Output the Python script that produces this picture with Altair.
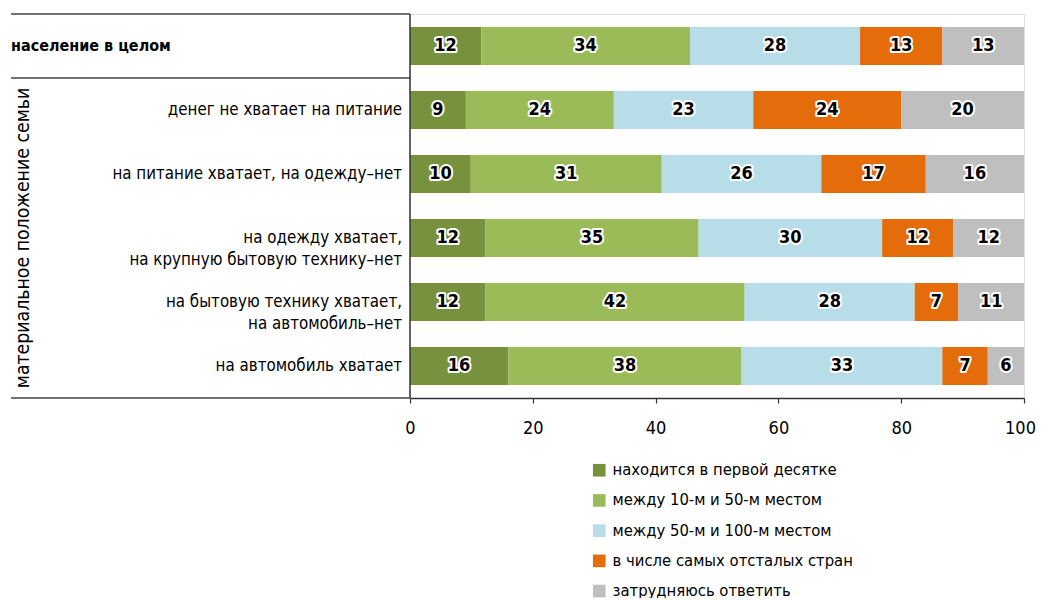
import altair as alt
import pandas as pd

rows = [
    "население в целом",
    "денег не хватает на питание",
    "на питание хватает, на одежду–нет",
    "на одежду хватает,\nна крупную бытовую технику–нет",
    "на бытовую технику хватает,\nна автомобиль–нет",
    "на автомобиль хватает",
]
series = [
    "находится в первой десятке",
    "между 10-м и 50-м местом",
    "между 50-м и 100-м местом",
    "в числе самых отсталых стран",
    "затрудняюсь ответить",
]
colors = ["#77923C", "#9BBB59", "#B7DDE8", "#E46C0A", "#BFBFBF"]

top10 = [11.6, 9.1, 9.9, 12.3, 12.3, 16.0]
top50 = [34.0, 24.1, 31.1, 34.7, 42.2, 38.0]
top100 = [27.7, 22.7, 26.0, 29.9, 27.7, 32.7]
worst = [13.4, 24.1, 17.0, 11.6, 7.1, 7.4]
dunno = [13.3, 20.0, 16.0, 11.5, 10.7, 5.9]
side_title = "материальное положение семьи"
x_ticks = [0, 20, 40, 60, 80, 100]

all_vals = [top10, top50, top100, worst, dunno]
recs = []
for i, r in enumerate(rows):
    for j, s in enumerate(series):
        recs.append({"row": r, "series": s, "value": all_vals[j][i], "order": j})
df = pd.DataFrame(recs)
df_rows = pd.DataFrame({"row": rows, "first": [k == 0 for k in range(len(rows))]})

FONT = "Liberation Sans Narrow, DejaVu Sans Condensed, Roboto Condensed, Arial Narrow, sans-serif"

yscale = alt.Scale(domain=rows, paddingInner=0.406, paddingOuter=0.203)

bars = alt.Chart(df).mark_bar(size=38).encode(
    x=alt.X("value:Q", stack="zero",
            scale=alt.Scale(domain=[0, 100], nice=False),
            axis=alt.Axis(values=x_ticks, title=None, grid=False, tickSize=5,
                          labelFontSize=18, labelFont=FONT, labelColor="#000",
                          domainColor="#333", tickColor="#333", domainWidth=1.5,
                          tickWidth=1.2, labelPadding=16,
                          labelOffset={"condition": {"test": "datum.value == 100", "value": -4},
                                       "value": 0},
                          labelFlush=False)),
    y=alt.Y("row:N", scale=yscale, axis=None, sort=rows),
    color=alt.Color("series:N", scale=alt.Scale(domain=series, range=colors),
                    legend=alt.Legend(title=None, orient="none", legendX=181, legendY=448,
                                      symbolType="square", symbolSize=160,
                                      symbolStrokeWidth=0, labelFontSize=16.5,
                                      labelFont=FONT, labelColor="#000",
                                      rowPadding=13.2, labelLimit=400, labelOffset=5)),
    order=alt.Order("order:Q"),
)

lab_base = alt.Chart(df).transform_stack(
    stack="value", groupby=["row"], as_=["x0", "x1"],
    sort=[alt.SortField("order", order="ascending")]
).transform_calculate(mid="(datum.x0 + datum.x1) / 2")

halo = lab_base.mark_text(fontSize=18, font=FONT, fontWeight="bold", stroke="white",
                          strokeWidth=4, strokeJoin="round", fill="white").encode(
    x=alt.X("mid:Q"), y=alt.Y("row:N", sort=rows),
    text=alt.Text("value:Q", format=".0f"))
labs = lab_base.mark_text(fontSize=18, font=FONT, fontWeight="bold", fill="#000").encode(
    x=alt.X("mid:Q"), y=alt.Y("row:N", sort=rows),
    text=alt.Text("value:Q", format=".0f"))

row_labels = alt.Chart(df_rows).transform_filter("!datum.first").mark_text(
    align="right", baseline="middle", fontSize=16.8, font=FONT, lineBreak="\n",
    lineHeight=22, color="#000").encode(
    x=alt.value(-8), y=alt.Y("row:N", sort=rows), text="row:N")
first_label = alt.Chart(df_rows).transform_filter("datum.first").mark_text(
    align="left", baseline="middle", fontSize=16, font=FONT, fontWeight="bold",
    color="#000").encode(
    x=alt.value(-399), y=alt.Y("row:N", sort=rows), text="row:N")

side = alt.Chart(pd.DataFrame({"t": [side_title]})).mark_text(
    angle=270, align="center", baseline="middle", fontSize=19.3, font=FONT,
    color="#000").encode(x=alt.value(-387), y=alt.value(224), text="t:N")

rule_df = pd.DataFrame({"k": [0]})
lc = "#444"
top_rule = alt.Chart(rule_df).mark_rule(color=lc, strokeWidth=1.5).encode(
    x=alt.value(-399), x2=alt.value(0), y=alt.value(0))
mid_rule = alt.Chart(rule_df).mark_rule(color=lc, strokeWidth=1.5).encode(
    x=alt.value(-399), x2=alt.value(0), y=alt.value(64))
bot_rule = alt.Chart(rule_df).mark_rule(color=lc, strokeWidth=1.5).encode(
    x=alt.value(-399), x2=alt.value(0), y=alt.value(384))
vert_rule = alt.Chart(rule_df).mark_rule(color="#333", strokeWidth=1.5).encode(
    x=alt.value(0), y=alt.value(0), y2=alt.value(384))

chart = alt.layer(
    bars, halo, labs, row_labels, first_label, side,
    top_rule, mid_rule, bot_rule, vert_rule
).properties(
    width=614, height=384, autosize="none",
    padding={"left": 402, "top": 6, "right": 12, "bottom": 200},
).configure_view(stroke=None).configure(font=FONT)

chart.save("out.html", embed_options={"renderer": "svg", "actions": False})
